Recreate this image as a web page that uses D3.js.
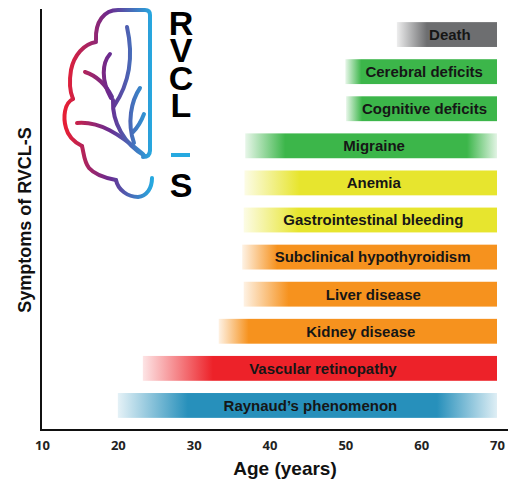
<!DOCTYPE html>
<html>
<head>
<meta charset="utf-8">
<script src="https://cdn.jsdelivr.net/npm/d3@7"></script>
<style>
  body { margin: 0; background: #fff; }
  svg { display: block; }
</style>
</head>
<body>
<svg id="chart"></svg>
<script>
// chart size
const width = 508;
const height = 483;

// symptoms from top to bottom, age of onset, age of end
const symptoms = ["Death", "Cerebral deficits", "Cognitive deficits", "Migraine", "Anemia",
  "Gastrointestinal bleeding", "Subclinical hypothyroidism", "Liver disease", "Kidney disease",
  "Vascular retinopathy", "Raynaud\u2019s phenomenon"];
const onsetAge = [56.8, 50, 50.1, 36.8, 36.7, 36.6, 36.4, 36.6, 33.3, 23.3, 20];
const endAge = [70, 70, 70, 70, 70, 70, 70, 70, 70, 70, 70];
const xTicks = [10, 20, 30, 40, 50, 60, 70];

// colours and fades (px) per bar
const barColors = ["#6d6e70", "#3cb64a", "#3cb64a", "#3cb64a", "#e7e52e", "#e7e52e",
  "#f6921e", "#f6921e", "#f6921e", "#ed2229", "#2790bb"];
const fadeLeft = [30, 16, 16, 40, 55, 55, 35, 45, 30, 70, 70];
const fadeRight = [0, 0, 0, 30, 0, 0, 0, 0, 0, 0, 60];

const svg = d3.select("#chart")
  .attr("width", width)
  .attr("height", height)
  .style("font-family", "'Liberation Sans', Arial, sans-serif");

const x = d3.scaleLinear().domain([10, 70]).range([42, 497]);
const y = d3.scaleBand().domain(symptoms).range([16, 424])
  .paddingInner(0.33).paddingOuter(0.165);

const defs = svg.append("defs");

// one gradient per bar, faded at the ends
symptoms.forEach((s, i) => {
  const x0 = x(onsetAge[i]), x1 = x(endAge[i]);
  const g = defs.append("linearGradient")
    .attr("id", "grad" + i)
    .attr("gradientUnits", "userSpaceOnUse")
    .attr("x1", x0).attr("x2", x1).attr("y1", 0).attr("y2", 0);
  const w = x1 - x0;
  g.append("stop").attr("offset", 0).attr("stop-color", barColors[i]).attr("stop-opacity", 0.12);
  g.append("stop").attr("offset", fadeLeft[i] / w).attr("stop-color", barColors[i]).attr("stop-opacity", 1);
  if (fadeRight[i] > 0) {
    g.append("stop").attr("offset", 1 - fadeRight[i] / w).attr("stop-color", barColors[i]).attr("stop-opacity", 1);
    g.append("stop").attr("offset", 1).attr("stop-color", barColors[i]).attr("stop-opacity", 0.15);
  } else {
    g.append("stop").attr("offset", 1).attr("stop-color", barColors[i]).attr("stop-opacity", 1);
  }
});

// bars
const bars = svg.append("g").attr("class", "bars")
  .selectAll("g")
  .data(symptoms)
  .enter().append("g");

bars.append("rect")
  .attr("x", (d, i) => x(onsetAge[i]))
  .attr("y", d => y(d))
  .attr("width", (d, i) => x(endAge[i]) - x(onsetAge[i]))
  .attr("height", y.bandwidth())
  .attr("fill", (d, i) => `url(#grad${i})`);

bars.append("text")
  .attr("x", (d, i) => (x(onsetAge[i]) + x(endAge[i])) / 2 + 3)
  .attr("y", d => y(d) + y.bandwidth() / 2)
  .attr("dy", "0.36em")
  .attr("text-anchor", "middle")
  .attr("font-size", 15)
  .attr("font-weight", "bold")
  .attr("fill", "#161616")
  .text(d => d);

// axes
const xAxis = svg.append("g")
  .attr("transform", "translate(0,430)")
  .call(d3.axisBottom(x).tickValues(xTicks).tickSize(0).tickPadding(11));
xAxis.select(".domain").remove();
xAxis.selectAll("text")
  .attr("font-family", "'Open Sans', sans-serif")
  .attr("font-size", 13)
  .attr("font-weight", "bold")
  .attr("fill", "#222");

svg.append("path")
  .attr("d", `M41,9 V430 H${width}`)
  .attr("fill", "none")
  .attr("stroke", "#111")
  .attr("stroke-width", 2);

svg.append("text")
  .attr("x", 285)
  .attr("y", 475)
  .attr("text-anchor", "middle")
  .attr("font-size", 19)
  .attr("font-weight", "bold")
  .attr("fill", "#111")
  .text("Age (years)");

svg.append("text")
  .attr("transform", "translate(31,220) rotate(-90)")
  .attr("text-anchor", "middle")
  .attr("font-size", 18)
  .attr("font-weight", "bold")
  .attr("fill", "#111")
  .text("Symptoms of RVCL-S");

// RVCL-S logo: brain outline with veins
const logoGrad = defs.append("linearGradient")
  .attr("id", "logoGrad")
  .attr("gradientUnits", "userSpaceOnUse")
  .attr("x1", 66).attr("x2", 152).attr("y1", 0).attr("y2", 0);
logoGrad.append("stop").attr("offset", 0).attr("stop-color", "#e51f35");
logoGrad.append("stop").attr("offset", 0.5).attr("stop-color", "#6b2a8f");
logoGrad.append("stop").attr("offset", 1).attr("stop-color", "#26a9e0");

const logo = svg.append("g")
  .attr("fill", "none")
  .attr("stroke", "url(#logoGrad)")
  .attr("stroke-width", 4)
  .attr("stroke-linecap", "round");

const logoPaths = [
  "M150,150 V15 Q150,10 145,10 H118 C104,10 95,22 96,40",
  "M96,42 C84,44 74,55 71,70 C69,82 70,92 73,99",
  "M73,99 C64,103 63,118 66,128 C68,136 74,142 82,146",
  "M82,146 C84,154 84,162 89,168 C95,175 105,178 116,180",
  "M116,180 C118,190 128,197 138,197 C147,196 152,188 152,178",
  "M150,150 Q150,157 143,157",
  "M127,27 C134,58 129,84 114,106",
  "M113,100 C112,122 124,144 145,156",
  "M110,54 C102,63 101,80 111,98",
  "M85,72 C97,76 106,85 112,97",
  "M77,123 C100,121 119,134 143,154",
  "M140,88 C131,101 127,123 134,143",
  "M144,114 C141,122 138,127 133,132"
];
logo.selectAll("path")
  .data(logoPaths)
  .enter().append("path")
  .attr("d", d => d);

const logoLetters = ["R", "V", "C", "L", "S"];
const letterBase = [35, 62, 90, 117, 197];
svg.append("g")
  .selectAll("text")
  .data(logoLetters)
  .enter().append("text")
  .attr("x", 181)
  .attr("y", (d, i) => letterBase[i])
  .attr("text-anchor", "middle")
  .attr("font-size", 34)
  .attr("font-weight", "bold")
  .attr("fill", "#000")
  .text(d => d);

svg.append("rect")
  .attr("x", 171).attr("y", 153).attr("width", 19).attr("height", 4)
  .attr("fill", "#26a9e0");
</script>
</body>
</html>
